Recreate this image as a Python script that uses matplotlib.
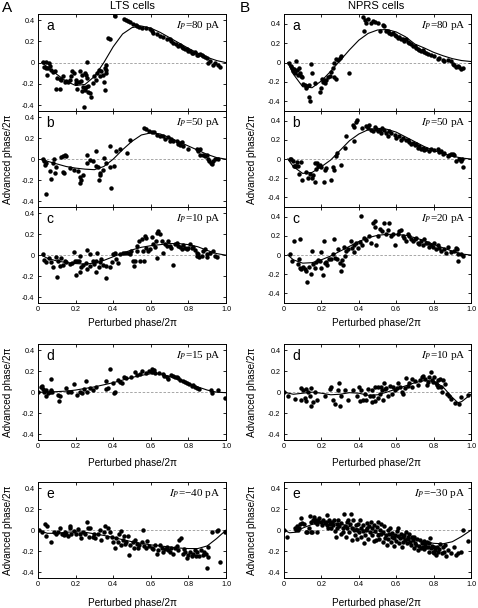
import numpy as np
import matplotlib
matplotlib.use('Agg')
import matplotlib.pyplot as plt
from matplotlib.ticker import FuncFormatter

plt.rcParams['font.family'] = ['Liberation Sans', 'DejaVu Sans']
plt.rcParams['mathtext.fontset'] = 'stix'
plt.rcParams['axes.unicode_minus'] = False

# ---- LTS cells (column A), points as (perturbed phase, advanced phase)
lts_a = [(0.027, 0.003), (0.044, 0.003), (0.057, -0.003), (0.030, -0.044), (0.041, -0.051),
         (0.053, -0.051), (0.062, -0.035), (0.050, -0.114), (0.071, -0.067), (0.080, -0.092),
         (0.089, -0.083), (0.101, -0.146), (0.115, -0.152), (0.124, -0.162), (0.133, -0.130),
         (0.142, -0.178), (0.151, -0.171), (0.160, -0.184), (0.169, -0.162), (0.178, -0.130),
         (0.183, -0.083), (0.190, -0.098), (0.201, -0.162), (0.204, -0.194), (0.218, -0.184),
         (0.231, -0.171), (0.240, -0.225), (0.250, -0.257), (0.261, -0.146), (0.236, -0.114),
         (0.222, -0.083), (0.098, -0.251), (0.115, -0.251), (0.208, -0.251), (0.236, -0.263),
         (0.254, -0.232), (0.266, -0.219), (0.275, -0.289), (0.284, -0.321), (0.266, -0.279),
         (0.243, -0.416), (0.261, 0.006), (0.250, -0.098), (0.254, -0.114), (0.290, -0.194),
         (0.297, -0.130), (0.307, -0.162), (0.314, -0.098), (0.325, -0.073), (0.329, -0.130),
         (0.337, -0.083), (0.346, -0.114), (0.350, -0.178), (0.361, -0.098), (0.355, -0.257),
         (0.364, -0.067), (0.364, -0.019), (0.355, -0.051), (0.373, 0.229), (0.385, 0.219),
         (0.412, 0.435), (0.456, 0.410), (0.467, 0.400), (0.480, 0.390), (0.492, 0.378),
         (0.506, 0.368), (0.520, 0.352), (0.528, 0.346), (0.538, 0.340), (0.551, 0.330),
         (0.577, 0.330), (0.595, 0.314), (0.604, 0.298), (0.613, 0.283), (0.631, 0.267),
         (0.648, 0.251), (0.666, 0.241), (0.684, 0.225), (0.702, 0.219), (0.710, 0.203),
         (0.719, 0.187), (0.734, 0.171), (0.746, 0.156), (0.755, 0.162), (0.764, 0.146),
         (0.773, 0.140), (0.782, 0.130), (0.790, 0.124), (0.799, 0.114), (0.808, 0.108),
         (0.817, 0.092), (0.826, 0.092), (0.835, 0.098), (0.844, 0.076), (0.853, 0.076),
         (0.861, 0.086), (0.870, 0.076), (0.879, 0.060), (0.888, 0.054), (0.897, 0.044),
         (0.906, -0.003), (0.915, 0.013), (0.932, -0.019), (0.941, -0.003), (0.959, -0.019),
         (0.968, -0.041)]
lts_a_fit = [(0.02, 0.0), (0.05, -0.04), (0.1, -0.11), (0.15, -0.175), (0.2, -0.215), (0.25, -0.205),
             (0.3, -0.13), (0.35, 0.0), (0.4, 0.15), (0.45, 0.27), (0.5, 0.33), (0.55, 0.345),
             (0.6, 0.325), (0.65, 0.285), (0.7, 0.235), (0.75, 0.185), (0.8, 0.135), (0.85, 0.09),
             (0.9, 0.05), (0.95, 0.02), (1.0, 0.0)]

lts_b = [(0.027, 0.0), (0.032, -0.016), (0.044, -0.032), (0.036, -0.054), (0.044, -0.330),
         (0.062, -0.117), (0.071, -0.190), (0.080, -0.032), (0.083, 0.0), (0.089, -0.127),
         (0.098, -0.070), (0.124, 0.025), (0.133, 0.032), (0.142, 0.041), (0.151, 0.032),
         (0.137, -0.133), (0.133, -0.121), (0.169, -0.086), (0.190, -0.102), (0.213, -0.108),
         (0.222, -0.165), (0.226, -0.229), (0.231, -0.197), (0.240, -0.149), (0.261, 0.041),
         (0.263, -0.038), (0.275, -0.006), (0.293, -0.022), (0.307, 0.073), (0.311, -0.063),
         (0.320, -0.076), (0.329, -0.133), (0.325, -0.197), (0.332, -0.149), (0.346, -0.102),
         (0.350, 0.010), (0.361, -0.038), (0.382, 0.127), (0.385, -0.070), (0.387, -0.276),
         (0.403, -0.063), (0.417, 0.073), (0.435, 0.095), (0.474, 0.057), (0.492, 0.178),
         (0.563, 0.300), (0.574, 0.286), (0.591, 0.270), (0.604, 0.263), (0.616, 0.254),
         (0.631, 0.232), (0.648, 0.216), (0.666, 0.216), (0.675, 0.190), (0.693, 0.210),
         (0.710, 0.190), (0.719, 0.168), (0.737, 0.168), (0.746, 0.146), (0.755, 0.137),
         (0.769, 0.121), (0.702, 0.168), (0.755, 0.152), (0.764, 0.159), (0.799, 0.095),
         (0.844, 0.095), (0.861, 0.095), (0.853, 0.073), (0.861, 0.041), (0.879, 0.041),
         (0.888, 0.032), (0.901, 0.041), (0.906, 0.0), (0.911, -0.013), (0.918, -0.032),
         (0.924, -0.044), (0.932, -0.013), (0.941, 0.0), (0.959, 0.0)]
lts_b_fit = [(0.02, 0.0), (0.05, -0.02), (0.1, -0.045), (0.15, -0.07), (0.2, -0.085), (0.25, -0.095),
             (0.3, -0.1), (0.35, -0.07), (0.4, 0.0), (0.45, 0.09), (0.5, 0.17), (0.55, 0.23),
             (0.6, 0.25), (0.65, 0.24), (0.7, 0.205), (0.75, 0.165), (0.8, 0.125), (0.85, 0.085),
             (0.9, 0.045), (0.95, 0.015), (1.0, 0.0)]

lts_c = [(0.027, 0.01), (0.030, -0.047), (0.044, -0.069), (0.059, -0.028), (0.071, -0.069),
         (0.080, -0.110), (0.094, -0.016), (0.101, -0.211), (0.107, -0.053), (0.115, -0.101),
         (0.124, -0.028), (0.133, -0.091), (0.142, -0.060), (0.151, -0.069), (0.169, -0.085),
         (0.183, -0.079), (0.190, 0.031), (0.195, -0.053), (0.201, -0.192), (0.208, -0.053),
         (0.218, -0.060), (0.222, -0.006), (0.226, -0.164), (0.231, -0.110), (0.240, -0.091),
         (0.254, -0.079), (0.258, 0.047), (0.263, -0.132), (0.275, 0.009), (0.279, -0.101),
         (0.290, -0.060), (0.297, -0.085), (0.307, -0.164), (0.311, -0.053), (0.314, 0.025),
         (0.325, -0.116), (0.329, -0.069), (0.337, -0.038), (0.346, -0.091), (0.361, -0.220),
         (0.364, -0.101), (0.382, -0.116), (0.391, -0.069), (0.400, 0.009), (0.408, 0.016),
         (0.417, -0.038), (0.426, -0.079), (0.435, 0.009), (0.453, 0.016), (0.462, 0.025),
         (0.480, 0.025), (0.492, 0.009), (0.497, 0.041), (0.506, -0.053), (0.510, -0.101),
         (0.515, -0.053), (0.524, 0.041), (0.528, 0.088), (0.538, 0.135), (0.542, -0.053),
         (0.551, 0.151), (0.556, 0.041), (0.563, -0.060), (0.568, 0.182), (0.577, 0.167),
         (0.577, 0.072), (0.586, 0.041), (0.595, 0.057), (0.604, 0.173), (0.613, 0.110),
         (0.622, 0.079), (0.627, 0.135), (0.631, -0.028), (0.634, 0.214), (0.639, 0.230),
         (0.648, 0.204), (0.657, 0.135), (0.666, 0.016), (0.675, 0.104), (0.684, 0.088),
         (0.693, 0.135), (0.702, 0.088), (0.710, 0.072), (0.719, -0.091), (0.728, 0.104),
         (0.737, 0.119), (0.746, 0.088), (0.755, 0.079), (0.764, 0.057), (0.773, 0.097),
         (0.782, 0.072), (0.790, 0.057), (0.799, 0.072), (0.808, 0.104), (0.817, 0.066),
         (0.826, 0.079), (0.835, 0.047), (0.844, 0.025), (0.847, -0.006), (0.853, 0.009),
         (0.858, -0.016), (0.870, -0.006), (0.879, 0.041), (0.888, 0.057), (0.897, 0.009),
         (0.901, -0.016), (0.915, 0.025), (0.932, 0.041), (0.941, -0.006), (0.950, -0.022)]
lts_c_fit = [(0.02, 0.0), (0.05, -0.03), (0.1, -0.055), (0.15, -0.07), (0.2, -0.08), (0.25, -0.085),
             (0.3, -0.075), (0.35, -0.05), (0.4, -0.015), (0.45, 0.02), (0.5, 0.05), (0.55, 0.075),
             (0.6, 0.09), (0.65, 0.1), (0.7, 0.11), (0.75, 0.11), (0.8, 0.1), (0.85, 0.08),
             (0.9, 0.045), (0.95, 0.015), (1.0, 0.0)]

lts_d = [(0.0, 0.0), (0.018, 0.047), (0.027, 0.028), (0.030, -0.003), (0.041, 0.022),
         (0.044, -0.034), (0.053, -0.009), (0.062, -0.003), (0.071, 0.022), (0.076, 0.006),
         (0.021, 0.059), (0.107, -0.025), (0.112, -0.088), (0.119, -0.041), (0.071, 0.122),
         (0.151, 0.037), (0.160, -0.003), (0.178, -0.003), (0.190, 0.078), (0.208, -0.025),
         (0.222, 0.006), (0.236, -0.009), (0.243, 0.028), (0.254, 0.109), (0.261, 0.006),
         (0.275, 0.037), (0.290, 0.022), (0.311, 0.047), (0.361, 0.109), (0.364, 0.028),
         (0.373, 0.037), (0.385, 0.219), (0.400, 0.084), (0.403, -0.009), (0.408, 0.006),
         (0.426, 0.116), (0.435, 0.100), (0.449, 0.084), (0.456, 0.141), (0.467, 0.131),
         (0.497, 0.147), (0.515, 0.194), (0.524, 0.163), (0.542, 0.169), (0.551, 0.203),
         (0.577, 0.184), (0.591, 0.203), (0.604, 0.216), (0.609, 0.194), (0.616, 0.209),
         (0.622, 0.184), (0.645, 0.184), (0.663, 0.172), (0.670, 0.153), (0.684, 0.147),
         (0.693, 0.122), (0.710, 0.163), (0.719, 0.153), (0.728, 0.147), (0.737, 0.141),
         (0.746, 0.131), (0.755, 0.116), (0.769, 0.109), (0.782, 0.100), (0.790, 0.091),
         (0.805, 0.078), (0.817, 0.059), (0.826, 0.069), (0.835, 0.053), (0.847, 0.037),
         (0.858, 0.028), (0.918, 0.022), (0.924, -0.009), (0.959, 0.016), (0.995, -0.056)]
lts_d_fit = [(0.0, 0.0), (0.05, 0.0), (0.1, 0.005), (0.15, 0.01), (0.2, 0.02), (0.25, 0.035),
             (0.3, 0.05), (0.35, 0.07), (0.4, 0.09), (0.45, 0.115), (0.5, 0.14), (0.55, 0.16),
             (0.6, 0.175), (0.65, 0.175), (0.7, 0.15), (0.75, 0.12), (0.8, 0.085), (0.85, 0.05),
             (0.9, 0.02), (0.95, 0.0), (1.0, -0.005)]

lts_e = [(0.005, 0.0), (0.023, -0.016), (0.036, 0.054), (0.048, 0.041), (0.044, -0.054),
         (0.071, -0.117), (0.083, -0.016), (0.094, -0.041), (0.107, -0.022), (0.115, 0.022),
         (0.130, -0.032), (0.137, -0.047), (0.142, -0.016), (0.151, -0.041), (0.160, -0.054),
         (0.169, 0.041), (0.172, 0.022), (0.178, -0.032), (0.190, -0.009), (0.201, -0.032),
         (0.213, 0.009), (0.222, -0.041), (0.231, -0.079), (0.240, -0.022), (0.249, -0.041),
         (0.261, 0.073), (0.266, 0.016), (0.272, -0.063), (0.279, 0.022), (0.290, -0.063),
         (0.297, -0.041), (0.302, -0.079), (0.320, -0.041), (0.329, 0.0), (0.337, -0.095),
         (0.350, -0.016), (0.355, 0.041), (0.368, -0.063), (0.373, 0.022), (0.382, -0.016),
         (0.391, -0.063), (0.400, -0.111), (0.408, -0.168), (0.417, -0.079), (0.426, -0.111),
         (0.431, -0.032), (0.439, -0.142), (0.444, -0.009), (0.453, -0.095), (0.456, -0.054),
         (0.462, -0.136), (0.467, -0.111), (0.480, -0.054), (0.485, -0.237), (0.492, -0.142),
         (0.503, -0.111), (0.510, -0.168), (0.515, -0.095), (0.524, -0.127), (0.533, -0.168),
         (0.538, -0.142), (0.551, -0.111), (0.556, 0.0), (0.563, -0.149), (0.574, -0.174),
         (0.581, -0.104), (0.591, -0.149), (0.604, -0.168), (0.613, -0.180), (0.622, -0.142),
         (0.631, -0.222), (0.639, -0.190), (0.648, -0.142), (0.657, -0.168), (0.666, -0.206),
         (0.675, -0.180), (0.684, -0.158), (0.693, -0.190), (0.702, -0.206), (0.710, -0.174),
         (0.719, -0.222), (0.728, -0.168), (0.737, -0.149), (0.746, -0.190), (0.751, -0.095),
         (0.758, -0.079), (0.769, -0.231), (0.776, -0.180), (0.782, -0.206), (0.790, -0.263),
         (0.799, -0.237), (0.808, -0.206), (0.817, -0.244), (0.826, -0.222), (0.835, -0.190),
         (0.840, -0.244), (0.847, -0.206), (0.858, -0.244), (0.867, -0.190), (0.876, -0.237),
         (0.883, -0.212), (0.894, -0.222), (0.897, -0.358), (0.902, -0.158), (0.906, -0.253),
         (0.927, -0.016), (0.950, -0.009), (0.959, 0.0), (0.968, -0.301), (0.995, -0.022)]
lts_e_fit = [(0.0, 0.0), (0.05, -0.03), (0.1, -0.03), (0.15, -0.02), (0.2, -0.015), (0.25, -0.02),
             (0.3, -0.035), (0.35, -0.05), (0.4, -0.07), (0.45, -0.09), (0.5, -0.11), (0.55, -0.125),
             (0.6, -0.14), (0.65, -0.15), (0.7, -0.16), (0.75, -0.17), (0.8, -0.175), (0.85, -0.175),
             (0.9, -0.15), (0.95, -0.08), (1.0, 0.0)]

# ---- NPRS cells (column B)
nprs_a = [(0.025, 0.0), (0.036, -0.035), (0.043, -0.060), (0.048, -0.084), (0.053, -0.070),
          (0.057, -0.105), (0.066, 0.011), (0.071, -0.077), (0.075, -0.130), (0.078, -0.060),
          (0.084, -0.105), (0.089, -0.140), (0.096, -0.147), (0.101, -0.218), (0.110, -0.235),
          (0.119, -0.260), (0.125, -0.246), (0.132, -0.235), (0.133, -0.351), (0.137, -0.393),
          (0.142, -0.014), (0.149, -0.105), (0.164, -0.211), (0.190, -0.305), (0.196, -0.260),
          (0.203, -0.165), (0.208, -0.200), (0.214, -0.182), (0.221, -0.211), (0.226, -0.182),
          (0.235, -0.154), (0.244, -0.140), (0.253, -0.095), (0.262, -0.060), (0.270, -0.147),
          (0.279, -0.165), (0.270, 0.0), (0.279, 0.035), (0.288, 0.028), (0.297, 0.046),
          (0.306, 0.070), (0.347, -0.105), (0.422, 0.467), (0.431, 0.442), (0.440, 0.407),
          (0.448, 0.449), (0.427, 0.326), (0.466, 0.407), (0.475, 0.432), (0.484, 0.421),
          (0.502, 0.407), (0.511, 0.326), (0.528, 0.386), (0.537, 0.379), (0.546, 0.326),
          (0.555, 0.326), (0.564, 0.309), (0.573, 0.291), (0.582, 0.302), (0.591, 0.281),
          (0.600, 0.274), (0.609, 0.256), (0.617, 0.267), (0.626, 0.239), (0.635, 0.246),
          (0.644, 0.221), (0.653, 0.239), (0.662, 0.211), (0.671, 0.196), (0.680, 0.186),
          (0.689, 0.175), (0.698, 0.168), (0.706, 0.151), (0.715, 0.140), (0.724, 0.133),
          (0.733, 0.116), (0.742, 0.126), (0.751, 0.105), (0.760, 0.098), (0.769, 0.091),
          (0.786, 0.081), (0.804, 0.063), (0.822, 0.035), (0.831, 0.046), (0.849, 0.028),
          (0.858, 0.011), (0.875, 0.021), (0.893, 0.011), (0.902, -0.014), (0.911, -0.025),
          (0.920, -0.042), (0.929, -0.035), (0.938, -0.042), (0.947, -0.070), (0.956, -0.060)]
nprs_a_fit = [(0.02, 0.0), (0.05, -0.12), (0.1, -0.25), (0.15, -0.26), (0.2, -0.19), (0.25, -0.09),
              (0.3, 0.02), (0.35, 0.13), (0.4, 0.23), (0.45, 0.30), (0.5, 0.335), (0.55, 0.34),
              (0.6, 0.315), (0.65, 0.265), (0.7, 0.19), (0.75, 0.15), (0.8, 0.105), (0.85, 0.07),
              (0.9, 0.04), (0.95, 0.02), (1.0, 0.01)]

nprs_b = [(0.030, 0.0), (0.039, 0.0), (0.048, -0.024), (0.053, -0.068), (0.060, -0.078),
          (0.066, -0.068), (0.071, -0.034), (0.075, -0.078), (0.078, -0.153), (0.093, -0.034),
          (0.096, -0.214), (0.119, -0.136), (0.128, -0.203), (0.137, -0.153), (0.149, -0.203),
          (0.155, -0.169), (0.164, -0.044), (0.167, -0.237), (0.173, -0.102), (0.178, -0.044),
          (0.181, -0.078), (0.190, -0.058), (0.199, -0.085), (0.214, -0.237), (0.217, -0.112),
          (0.226, -0.092), (0.249, -0.214), (0.262, -0.085), (0.270, -0.119), (0.276, 0.034),
          (0.285, 0.058), (0.306, -0.058), (0.324, 0.119), (0.333, 0.237), (0.368, 0.349),
          (0.377, 0.329), (0.386, 0.390), (0.391, 0.407), (0.377, 0.186), (0.416, 0.322),
          (0.440, 0.339), (0.448, 0.322), (0.457, 0.349), (0.466, 0.305), (0.475, 0.288),
          (0.484, 0.329), (0.493, 0.315), (0.502, 0.288), (0.511, 0.305), (0.520, 0.271),
          (0.523, 0.322), (0.537, 0.305), (0.546, 0.271), (0.555, 0.237), (0.564, 0.288),
          (0.573, 0.271), (0.591, 0.254), (0.600, 0.220), (0.617, 0.237), (0.626, 0.203),
          (0.635, 0.220), (0.653, 0.193), (0.662, 0.203), (0.671, 0.180), (0.680, 0.153),
          (0.689, 0.169), (0.698, 0.146), (0.706, 0.159), (0.715, 0.119), (0.724, 0.136),
          (0.733, 0.102), (0.742, 0.119), (0.751, 0.092), (0.760, 0.102), (0.778, 0.085),
          (0.786, 0.102), (0.804, 0.092), (0.822, 0.102), (0.831, 0.068), (0.840, 0.085),
          (0.849, 0.051), (0.858, 0.058), (0.875, 0.034), (0.884, 0.044), (0.893, 0.051),
          (0.902, 0.051), (0.911, 0.044), (0.920, -0.024), (0.938, 0.0), (0.947, -0.017),
          (0.956, -0.085), (0.950, 0.0)]
nprs_b_fit = [(0.02, 0.0), (0.05, -0.08), (0.1, -0.15), (0.15, -0.14), (0.2, -0.08), (0.25, -0.01),
              (0.3, 0.09), (0.35, 0.19), (0.4, 0.26), (0.45, 0.305), (0.5, 0.32), (0.55, 0.31),
              (0.6, 0.28), (0.65, 0.23), (0.7, 0.18), (0.75, 0.13), (0.8, 0.09), (0.85, 0.055),
              (0.9, 0.03), (0.95, 0.01), (1.0, 0.0)]

nprs_c = [(0.030, 0.007), (0.043, -0.062), (0.053, 0.145), (0.084, 0.162), (0.075, -0.097),
          (0.078, -0.045), (0.084, -0.131), (0.089, -0.148), (0.101, -0.121), (0.110, -0.141),
          (0.119, -0.166), (0.125, -0.279), (0.132, -0.121), (0.142, -0.200), (0.149, 0.038),
          (0.155, -0.097), (0.164, -0.131), (0.173, -0.072), (0.181, -0.052), (0.190, -0.062),
          (0.196, 0.031), (0.199, -0.131), (0.208, -0.210), (0.214, 0.145), (0.217, -0.086),
          (0.226, -0.072), (0.231, -0.107), (0.238, -0.038), (0.249, -0.045), (0.262, 0.007),
          (0.270, 0.169), (0.274, -0.028), (0.281, -0.045), (0.288, 0.059), (0.297, -0.086),
          (0.306, -0.166), (0.310, -0.052), (0.315, -0.107), (0.320, 0.086), (0.324, -0.010),
          (0.333, 0.041), (0.342, 0.059), (0.356, 0.145), (0.363, 0.076), (0.374, 0.031),
          (0.377, 0.100), (0.386, 0.128), (0.395, 0.076), (0.404, 0.134), (0.413, 0.410),
          (0.416, 0.100), (0.427, 0.179), (0.440, 0.155), (0.457, 0.197), (0.466, 0.128),
          (0.475, 0.334), (0.484, 0.352), (0.488, 0.293), (0.493, 0.100), (0.502, 0.197),
          (0.516, 0.266), (0.523, 0.248), (0.537, 0.334), (0.546, 0.214), (0.555, 0.259),
          (0.564, 0.334), (0.573, 0.197), (0.582, 0.214), (0.591, 0.100), (0.609, 0.214),
          (0.617, 0.248), (0.626, 0.259), (0.635, 0.197), (0.644, 0.179), (0.653, 0.145),
          (0.662, 0.214), (0.671, 0.197), (0.680, 0.169), (0.689, 0.145), (0.698, 0.162),
          (0.706, 0.179), (0.715, 0.128), (0.724, 0.110), (0.733, 0.145), (0.742, 0.100),
          (0.751, 0.169), (0.760, 0.128), (0.769, 0.121), (0.778, 0.086), (0.786, 0.100),
          (0.795, 0.086), (0.804, 0.128), (0.813, 0.059), (0.822, 0.100), (0.831, 0.076),
          (0.840, 0.041), (0.854, 0.059), (0.867, 0.024), (0.879, 0.086), (0.893, 0.031),
          (0.907, 0.041), (0.920, 0.076), (0.925, 0.059), (0.929, 0.007), (0.932, -0.062),
          (0.947, 0.007), (0.956, -0.010)]
nprs_c_fit = [(0.02, 0.0), (0.05, -0.05), (0.1, -0.085), (0.15, -0.08), (0.2, -0.05), (0.25, -0.01),
              (0.3, 0.04), (0.35, 0.09), (0.4, 0.14), (0.45, 0.18), (0.5, 0.205), (0.55, 0.215),
              (0.6, 0.215), (0.65, 0.205), (0.7, 0.18), (0.75, 0.15), (0.8, 0.11), (0.85, 0.075),
              (0.9, 0.04), (0.95, 0.01), (1.0, 0.0)]

nprs_d = [(0.0, 0.0), (0.021, -0.034), (0.057, -0.066), (0.089, 0.037), (0.093, -0.072),
          (0.102, 0.016), (0.111, -0.056), (0.120, 0.028), (0.120, -0.088), (0.129, -0.003),
          (0.138, -0.034), (0.143, -0.128), (0.146, 0.037), (0.155, -0.097), (0.168, -0.003),
          (0.179, -0.072), (0.221, -0.041), (0.245, 0.028), (0.254, 0.047), (0.263, -0.078),
          (0.271, -0.109), (0.289, 0.022), (0.293, 0.084), (0.298, -0.128), (0.307, -0.041),
          (0.325, 0.016), (0.343, -0.072), (0.370, 0.022), (0.393, -0.041), (0.400, 0.047),
          (0.405, -0.088), (0.414, 0.022), (0.423, -0.072), (0.432, -0.016), (0.441, -0.078),
          (0.450, 0.028), (0.459, -0.041), (0.468, 0.016), (0.471, -0.097), (0.477, -0.041),
          (0.486, 0.047), (0.489, -0.088), (0.500, 0.047), (0.504, -0.056), (0.513, -0.016),
          (0.518, 0.047), (0.525, 0.016), (0.530, -0.072), (0.536, 0.084), (0.539, 0.028),
          (0.548, 0.037), (0.557, -0.041), (0.566, 0.059), (0.575, -0.016), (0.584, 0.053),
          (0.593, 0.022), (0.602, 0.037), (0.611, 0.091), (0.620, 0.053), (0.629, 0.006),
          (0.638, -0.016), (0.646, 0.037), (0.655, 0.131), (0.661, 0.059), (0.668, 0.091),
          (0.682, 0.122), (0.686, 0.047), (0.700, 0.109), (0.718, 0.069), (0.727, 0.116),
          (0.736, 0.141), (0.745, 0.153), (0.754, 0.122), (0.763, 0.069), (0.768, 0.100),
          (0.775, 0.141), (0.786, 0.194), (0.789, 0.116), (0.798, 0.100), (0.804, 0.141),
          (0.811, 0.084), (0.816, 0.069), (0.821, 0.047), (0.825, 0.116), (0.834, 0.122),
          (0.839, 0.053), (0.846, 0.006), (0.852, 0.116), (0.861, 0.078), (0.870, -0.016),
          (0.882, -0.034), (0.893, -0.066), (0.914, -0.103), (0.936, -0.109), (0.946, -0.047),
          (0.982, -0.025)]
nprs_d_fit = [(0.0, 0.0), (0.05, -0.02), (0.1, -0.01), (0.15, 0.0), (0.2, -0.01), (0.25, -0.025),
              (0.3, -0.02), (0.35, -0.005), (0.4, -0.01), (0.45, -0.03), (0.5, -0.025), (0.55, 0.0),
              (0.6, 0.03), (0.65, 0.06), (0.7, 0.09), (0.75, 0.11), (0.8, 0.105), (0.85, 0.05),
              (0.9, -0.05), (0.93, -0.1), (0.95, -0.09), (1.0, -0.02)]

nprs_e = [(0.0, 0.0), (0.014, -0.069), (0.057, 0.025), (0.063, 0.006), (0.068, 0.038),
          (0.075, 0.0), (0.080, 0.025), (0.086, 0.063), (0.093, 0.119), (0.098, 0.069),
          (0.107, 0.063), (0.116, -0.016), (0.125, -0.016), (0.134, 0.025), (0.139, 0.132),
          (0.143, -0.016), (0.146, 0.079), (0.152, -0.016), (0.157, 0.094), (0.161, 0.126),
          (0.164, 0.079), (0.170, 0.101), (0.175, 0.063), (0.179, -0.016), (0.182, 0.088),
          (0.188, 0.119), (0.196, 0.079), (0.205, 0.047), (0.211, 0.101), (0.218, 0.069),
          (0.223, 0.079), (0.229, 0.047), (0.232, 0.142), (0.236, 0.025), (0.241, 0.094),
          (0.246, 0.063), (0.250, 0.025), (0.259, 0.079), (0.264, 0.047), (0.268, 0.094),
          (0.271, -0.006), (0.277, -0.069), (0.282, 0.063), (0.286, 0.025), (0.289, 0.101),
          (0.295, 0.038), (0.304, 0.069), (0.307, -0.038), (0.313, 0.016), (0.318, -0.016),
          (0.321, 0.151), (0.325, 0.038), (0.330, -0.063), (0.336, 0.079), (0.339, 0.025),
          (0.343, 0.101), (0.348, -0.016), (0.354, 0.063), (0.357, 0.151), (0.361, -0.094),
          (0.366, 0.025), (0.371, 0.094), (0.375, 0.006), (0.379, -0.047), (0.384, 0.047),
          (0.389, -0.088), (0.393, 0.0), (0.396, 0.057), (0.402, -0.016), (0.407, 0.101),
          (0.411, -0.069), (0.414, 0.025), (0.420, -0.006), (0.425, 0.047), (0.429, -0.126),
          (0.432, -0.047), (0.438, 0.006), (0.443, 0.069), (0.446, 0.025), (0.450, -0.088),
          (0.455, 0.038), (0.461, -0.016), (0.464, 0.079), (0.468, -0.047), (0.473, 0.016),
          (0.479, -0.101), (0.482, 0.047), (0.486, -0.006), (0.491, -0.094), (0.496, 0.031),
          (0.500, -0.047), (0.504, 0.079), (0.509, -0.088), (0.514, 0.006), (0.518, -0.038),
          (0.521, 0.063), (0.527, -0.110), (0.532, -0.016), (0.536, 0.038), (0.539, -0.079),
          (0.545, -0.047), (0.550, -0.142), (0.554, 0.0), (0.557, -0.088), (0.563, -0.038),
          (0.568, 0.025), (0.571, -0.110), (0.575, -0.063), (0.580, -0.025), (0.586, -0.151),
          (0.589, -0.079), (0.593, -0.047), (0.598, -0.101), (0.604, -0.006), (0.607, -0.057),
          (0.611, 0.025), (0.616, -0.126), (0.621, -0.079), (0.625, -0.038), (0.629, -0.157),
          (0.634, -0.069), (0.639, -0.110), (0.643, -0.047), (0.646, -0.094), (0.652, -0.016),
          (0.657, -0.126), (0.661, -0.063), (0.664, -0.088), (0.670, -0.038), (0.675, -0.110),
          (0.679, -0.142), (0.682, -0.069), (0.688, -0.094), (0.693, -0.173), (0.696, -0.063),
          (0.700, -0.119), (0.705, -0.142), (0.711, -0.088), (0.714, -0.189), (0.723, -0.151),
          (0.729, -0.094), (0.732, -0.173), (0.736, -0.126), (0.741, -0.157), (0.746, -0.101),
          (0.750, -0.182), (0.754, -0.132), (0.759, -0.157), (0.764, -0.110), (0.768, -0.164),
          (0.775, -0.204), (0.777, -0.126), (0.782, -0.079), (0.786, -0.173), (0.789, -0.151),
          (0.795, -0.204), (0.800, -0.164), (0.804, -0.220), (0.807, -0.189), (0.813, -0.236),
          (0.818, -0.157), (0.821, -0.204), (0.830, -0.182), (0.836, -0.132), (0.843, -0.220),
          (0.848, -0.164), (0.857, -0.204), (0.861, -0.142), (0.866, -0.245), (0.875, -0.189),
          (0.893, -0.220), (0.907, -0.157), (0.920, -0.236), (0.929, -0.220), (0.946, -0.204),
          (0.955, 0.006), (0.982, -0.101)]
nprs_e_fit = [(0.0, 0.0), (0.03, -0.025), (0.06, -0.02), (0.1, 0.02), (0.15, 0.055), (0.2, 0.07),
              (0.25, 0.072), (0.3, 0.06), (0.35, 0.035), (0.4, 0.01), (0.45, -0.01), (0.5, -0.03),
              (0.55, -0.045), (0.6, -0.06), (0.65, -0.075), (0.7, -0.09), (0.75, -0.11), (0.8, -0.125),
              (0.85, -0.13), (0.9, -0.11), (0.95, -0.06), (1.0, 0.0)]

W, H = 478.0, 608.0
fig = plt.figure(figsize=(W / 100, H / 100), dpi=100)


def box(x0, y0, x1, y1):
    # pixel box (top-left origin) -> figure fraction rect
    return [x0 / W, 1 - y1 / H, (x1 - x0) / W, (y1 - y0) / H]


def fmt(v, pos):
    if abs(v) < 1e-9:
        return '0'
    return '%.1f' % v


def panel(rect, pts, fit, letter, label, ylim, xlabels):
    ax = fig.add_axes(rect)
    p = np.array(pts)
    f = np.array(fit)
    ax.axhline(0, color='0.6', lw=0.6, ls=(0, (3, 2)), zorder=1)
    ax.plot(f[:, 0], f[:, 1], color='k', lw=0.8, zorder=2)
    ax.plot(p[:, 0], p[:, 1], 'o', color='k', ms=3.2, mew=0, zorder=3)
    ax.set_xlim(0, 1)
    ax.set_ylim(ylim)
    ax.set_xticks([0, 0.2, 0.4, 0.6, 0.8, 1.0])
    ax.set_yticks([-0.4, -0.2, 0, 0.2, 0.4])
    ax.xaxis.set_major_formatter(FuncFormatter(fmt))
    ax.yaxis.set_major_formatter(FuncFormatter(fmt))
    ax.tick_params(direction='in', top=True, right=True, length=2.5, width=0.6,
                   labelsize=5.2, pad=2.5)
    if not xlabels:
        ax.tick_params(labelbottom=False)
    for s in ax.spines.values():
        s.set_linewidth(0.7)
    ax.text(0.045, 0.95, letter, transform=ax.transAxes, fontsize=10, va='top', ha='left')
    ax.text(0.97, 0.95, label, transform=ax.transAxes, fontsize=8, va='top', ha='right',
            family='Liberation Serif')
    return ax


ylim_a = (-0.455, 0.458)
ylim_b = (-0.5, 0.5)

# column A
panel(box(38, 14, 226, 111), lts_a, lts_a_fit, 'a', r'$I_P$=80 pA', ylim_a, False)
panel(box(38, 111, 226, 207), lts_b, lts_b_fit, 'b', r'$I_P$=50 pA', ylim_a, False)
panel(box(38, 207, 226, 303), lts_c, lts_c_fit, 'c', r'$I_P$=10 pA', ylim_a, True)
panel(box(38, 344, 226, 440), lts_d, lts_d_fit, 'd', r'$I_P$=15 pA', ylim_a, True)
panel(box(38, 482, 226, 578), lts_e, lts_e_fit, 'e', r'$I_P$=−40 pA', ylim_a, True)

# column B
panel(box(284, 14, 471, 111), nprs_a, nprs_a_fit, 'a', r'$I_P$=80 pA', ylim_b, False)
panel(box(284, 111, 471, 207), nprs_b, nprs_b_fit, 'b', r'$I_P$=50 pA', ylim_b, False)
panel(box(284, 207, 471, 303), nprs_c, nprs_c_fit, 'c', r'$I_P$=20 pA', ylim_b, True)
panel(box(284, 344, 471, 440), nprs_d, nprs_d_fit, 'd', r'$I_P$=10 pA', ylim_a, True)
panel(box(284, 482, 471, 578), nprs_e, nprs_e_fit, 'e', r'$I_P$=−30 pA', ylim_a, True)

# titles, panel letters, axis labels
fig.text(7 / W, 1 - 8 / H, 'A', fontsize=11, ha='center', va='center')
fig.text(245 / W, 1 - 8 / H, 'B', fontsize=11, ha='center', va='center')
fig.text(132 / W, 1 - 6 / H, 'LTS cells', fontsize=8, ha='center', va='center')
fig.text(376 / W, 1 - 6 / H, 'NPRS cells', fontsize=8, ha='center', va='center')

ylab = 'Advanced phase/2\u03c0'
xlab = 'Perturbed phase/2\u03c0'
for xc, yl in [(8, 159), (8, 392), (8, 530), (252, 159), (252, 392), (252, 530)]:
    fig.text(xc / W, 1 - yl / H, ylab, fontsize=7.2, rotation=90, ha='center', va='center')
for xc in (132, 377):
    for yc in (323, 463, 603):
        fig.text(xc / W, 1 - yc / H, xlab, fontsize=7.2, ha='center', va='center')

fig.savefig('out.png', dpi=100)
